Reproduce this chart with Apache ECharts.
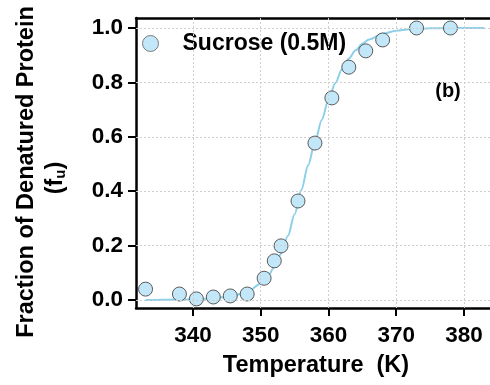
<!DOCTYPE html>
<html>
<head>
<meta charset="utf-8">
<script src="https://cdn.jsdelivr.net/npm/echarts@6/dist/echarts.min.js"></script>
<style>html,body{margin:0;padding:0;background:#fff}#c{width:490px;height:385px}</style>
</head>
<body>
<div id="c"></div>
<script>
// Data
var tempPoints = [333, 338, 340.5, 343, 345.5, 348, 350.5, 352, 353, 355.5, 358, 360.5, 363, 365.5, 368, 373, 378];
var fuPoints   = [0.040, 0.022, 0.004, 0.011, 0.015, 0.022, 0.080, 0.144, 0.199, 0.364, 0.577, 0.743, 0.856, 0.916, 0.956, 1.000, 1.000];
var fitTemp = [333, 336, 339, 342, 344, 346, 348, 350, 351, 352, 353, 354, 355, 356, 357, 358, 359, 360, 361, 362, 363, 364, 365, 366, 368, 370, 372, 375, 378, 383];
var fitFu   = [0.000, 0.001, 0.002, 0.005, 0.009, 0.016, 0.030, 0.060, 0.085, 0.120, 0.170, 0.235, 0.315, 0.405, 0.495, 0.580, 0.662, 0.735, 0.797, 0.848, 0.888, 0.918, 0.942, 0.958, 0.979, 0.990, 0.995, 0.999, 1.000, 1.000];
var xTicks = [340, 350, 360, 370, 380];
var yTicks = [0.0, 0.2, 0.4, 0.6, 0.8, 1.0];
var seriesName = 'Sucrose (0.5M)';

var FONT = '"Liberation Sans", Arial, sans-serif';
var chart = echarts.init(document.getElementById('c'), null, {renderer: 'canvas'});

var scatterData = tempPoints.map(function (t, i) { return [t, fuPoints[i]]; });
var fitData = fitTemp.map(function (t, i) { return [t, fitFu[i]]; });

var gridLineStyle = {color: '#cfcfcf', type: [2, 2], width: 1};
var markLines = [];
xTicks.forEach(function (v) { markLines.push({xAxis: v}); });
yTicks.forEach(function (v) { markLines.push({yAxis: v}); });

var option = {
  animation: false,
  backgroundColor: '#ffffff',
  grid: {left: 136, top: 18, right: 0, bottom: 77, containLabel: false},
  xAxis: [{
    type: 'value', min: 331.59, max: 383.84, position: 'bottom',
    axisLine: {show: true, onZero: false, lineStyle: {color: '#000', width: 2.5}},
    axisTick: {show: true, inside: false, length: 8, lineStyle: {color: '#000', width: 2}, customValues: xTicks},
    axisLabel: {show: true, margin: 16, color: '#000', fontFamily: FONT, fontWeight: 'bold', fontSize: 22.5, customValues: xTicks,
      formatter: function (v) { return String(Math.round(v)); }},
    splitLine: {show: false}
  }, {
    type: 'value', min: 331.59, max: 383.84, position: 'top',
    axisLine: {show: true, onZero: false, lineStyle: {color: '#000', width: 2.5}},
    axisTick: {show: false}, axisLabel: {show: false}, splitLine: {show: false}
  }],
  yAxis: {
    type: 'value', min: -0.0294, max: 1.0368,
    axisLine: {show: true, onZero: false, lineStyle: {color: '#000', width: 2.5}},
    axisTick: {show: true, inside: false, length: 8, lineStyle: {color: '#000', width: 2}, customValues: yTicks},
    axisLabel: {show: true, margin: 13, color: '#000', fontFamily: FONT, fontWeight: 'bold', fontSize: 22.5, customValues: yTicks,
      formatter: function (v) { return v.toFixed(1); }},
    splitLine: {show: false}
  },
  legend: {
    show: true, data: [seriesName], left: 137, top: 27, itemWidth: 16, itemHeight: 16, itemGap: 0,
    icon: 'circle',
    itemStyle: {color: '#c2e7f8', borderColor: '#7a7a7a', borderWidth: 1},
    textStyle: {color: '#000', fontFamily: FONT, fontWeight: 'bold', fontSize: 23, padding: [0, 0, 0, 19]}
  },
  graphic: [
    {type: 'text', x: 27, y: 172, rotation: Math.PI / 2,
      style: {text: 'Fraction of Denatured Protein', fill: '#000', font: 'bold 23.5px ' + FONT, align: 'center', verticalAlign: 'middle'}},
    {type: 'text', x: 56, y: 178, rotation: Math.PI / 2,
      style: {text: '(f{sub|u})', fill: '#000', font: 'bold 23.5px ' + FONT, align: 'center', verticalAlign: 'middle',
        rich: {sub: {fontSize: 15, fontWeight: 'bold', fontFamily: FONT, fill: '#000', verticalAlign: 'bottom', padding: [8, 0, 0, 0]}}}},
    {type: 'text', x: 316, y: 366,
      style: {text: 'Temperature  (K)', fill: '#000', font: 'bold 23.5px ' + FONT, align: 'center', verticalAlign: 'middle'}},
    {type: 'text', x: 448, y: 91,
      style: {text: '(b)', fill: '#000', font: 'bold 20px ' + FONT, align: 'center', verticalAlign: 'middle'}}
  ],
  series: [{
    name: 'grid', type: 'line', data: [], silent: true,
    markLine: {silent: true, symbol: 'none', label: {show: false}, lineStyle: gridLineStyle, data: markLines}
  }, {
    name: 'fit', type: 'line', data: fitData, smooth: 0.3, smoothMonotone: 'x', showSymbol: false, silent: true,
    lineStyle: {color: '#8ccfe9', width: 2}, z: 3
  }, {
    name: seriesName, type: 'scatter', data: scatterData, symbol: 'circle', symbolSize: 14,
    itemStyle: {color: '#c2e7f8', borderColor: '#5a5a5a', borderWidth: 1, opacity: 1}, z: 4
  }]
};
chart.setOption(option);
</script>
</body>
</html>
